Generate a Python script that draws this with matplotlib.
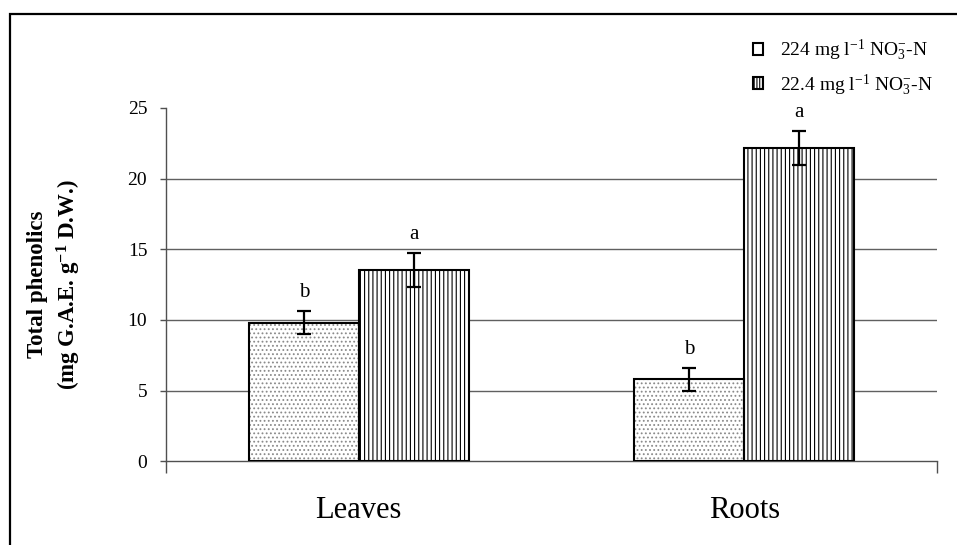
"""Total phenolics in leaves and roots under two nitrate levels."""

import matplotlib

matplotlib.use("Agg")

import matplotlib.pyplot as plt
import numpy as np
from matplotlib.patches import Patch, Rectangle

plt.rcParams["font.family"] = ["Liberation Serif", "DejaVu Serif"]
plt.rcParams["mathtext.fontset"] = "custom"
plt.rcParams["mathtext.rm"] = "Liberation Serif"
plt.rcParams["mathtext.it"] = "Liberation Serif:italic"
plt.rcParams["mathtext.bf"] = "Liberation Serif:bold"
plt.rcParams["hatch.linewidth"] = 0.8

categories = ["Leaves", "Roots"]
series_labels = [
    r"224 mg l$^{-1}$ NO$_3^{-}$-N",
    r"22.4 mg l$^{-1}$ NO$_3^{-}$-N",
]
high_n = [9.8, 5.8]
high_n_err = [0.83, 0.8]
high_n_letters = ["b", "b"]
low_n = [13.5, 22.15]
low_n_err = [1.2, 1.2]
low_n_letters = ["a", "a"]
y_ticks = [0, 5, 10, 15, 20, 25]

GRID = "#606060"
AXIS = "#505050"

fig = plt.figure(figsize=(9.57, 5.45), dpi=100)
ax = fig.add_axes([166 / 957, 1 - 461.3 / 545, 771 / 957, 353.5 / 545])

x = np.arange(len(categories))
width = 0.285
err_kw = dict(ecolor="black", elinewidth=1.6, capsize=5, capthick=1.6, zorder=5)

# stipple in grey under a black outline
ax.bar(x - width / 2, high_n, width, facecolor="white", edgecolor="#8a8a8a",
       linewidth=0, hatch="....", zorder=3)
ax.bar(x - width / 2, high_n, width, facecolor="none", edgecolor="black",
       linewidth=1.5, zorder=4)
ax.bar(x + width / 2, low_n, width, facecolor="white", edgecolor="black",
       linewidth=1.5, hatch="||||", zorder=3)
ax.errorbar(x - width / 2, high_n, yerr=high_n_err, fmt="none", **err_kw)
ax.errorbar(x + width / 2, low_n, yerr=low_n_err, fmt="none", **err_kw)

for xs, vals, errs, letters in [
    (x - width / 2, high_n, high_n_err, high_n_letters),
    (x + width / 2, low_n, low_n_err, low_n_letters),
]:
    for xi, v, e, t in zip(xs, vals, errs, letters):
        ax.annotate(t, (xi, v + e), xytext=(0, 13.5), textcoords="offset points",
                    ha="center", va="center", fontsize=15)

ax.set_xlim(-0.5, 1.5)
ax.set_ylim(0, 25)
ax.set_yticks(y_ticks)
ax.tick_params(axis="y", length=4.5, width=1, color=AXIS, labelsize=14, pad=9)

ax.set_xticks([-0.5, 1.5])
ax.set_xticklabels(["", ""])
ax.set_xticks(x, minor=True)
ax.set_xticklabels(categories, minor=True)
ax.tick_params(axis="x", which="major", length=8.5, width=1, color=AXIS)
ax.tick_params(axis="x", which="minor", length=0, labelsize=22, pad=25)

for side in ["top", "right"]:
    ax.spines[side].set_visible(False)
for side in ["left", "bottom"]:
    ax.spines[side].set_color(AXIS)
    ax.spines[side].set_linewidth(1)

for yv in y_ticks[1:-1]:
    ax.axhline(yv, color=GRID, linewidth=1, zorder=1)

ax.set_ylabel("Total phenolics\n" + r"(mg G.A.E. g$^{\mathbf{-1}}$ D.W.)",
              fontsize=16.5, fontweight="bold", linespacing=1.3)
ax.yaxis.set_label_coords(-0.108, 0.5)

handles = [
    Patch(facecolor="white", edgecolor="black", linewidth=1.5),
    Patch(facecolor="white", edgecolor="black", linewidth=1.5, hatch="||||||"),
]
fig.legend(handles=handles, labels=series_labels, loc="center left",
           bbox_to_anchor=(745 / 957, 1 - 67.5 / 545), frameon=False,
           fontsize=14, handlelength=0.55, handleheight=0.55,
           handletextpad=0.85, labelspacing=0.45, borderaxespad=0)

# outer frame, cut off at the right and bottom like the source image
fig.patches.append(Rectangle((10 / 957, -0.1), 1.2, 1.1 - 14 / 545,
                             transform=fig.transFigure, fill=False,
                             edgecolor="black", linewidth=1.6))

fig.savefig("out.png", dpi=100)
